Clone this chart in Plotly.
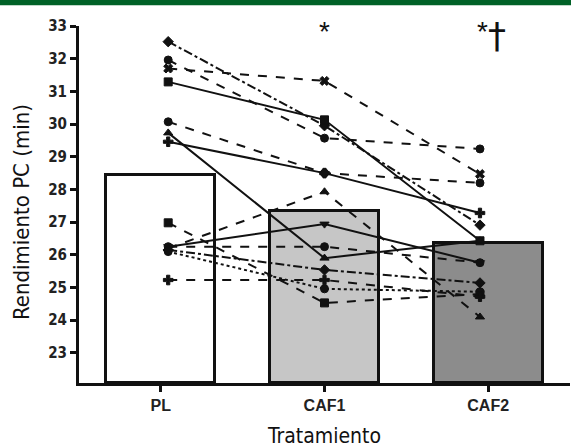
import plotly.graph_objects as go

categories = ["PL", "CAF1", "CAF2"]
bar_means = [28.44, 27.34, 26.37]
y_ticks = list(range(23, 34))

# individual subjects: values at PL, CAF1, CAF2
s1 = [32.52, 29.95, 26.91]
s2 = [31.96, 29.57, 29.24]
s3 = [31.70, 31.32, 28.47]
s4 = [31.29, 30.13, 26.43]
s5 = [30.07, 28.50, 28.20]
s6 = [29.73, 25.90, 26.43]
s7 = [29.46, 28.50, 27.28]
s8 = [26.98, 24.53, 24.80]
s9 = [26.25, 26.94, 25.76]
s10 = [26.20, 27.93, 24.10]
s11 = [26.25, 26.25, 25.76]
s12 = [26.15, 25.54, 25.14]
s13 = [26.10, 24.96, 24.87]
s14 = [25.23, 25.23, 24.72]

subjects = [
    (s1, "diamond", "dashdot"),
    (s2, "circle", "dash"),
    (s3, "x", "dash"),
    (s4, "square", "solid"),
    (s5, "circle", "dash"),
    (s6, "triangle-up", "solid"),
    (s7, "cross", "solid"),
    (s8, "square", "dash"),
    (s9, "triangle-down", "solid"),
    (s10, "triangle-up", "dash"),
    (s11, "circle", "dash"),
    (s12, "diamond", "dashdot"),
    (s13, "circle", "dot"),
    (s14, "cross", "dash"),
]

YMIN, YMAX = 22.08, 33
bar_x = [0, 1, 2]
point_x = [0.045, 1.0, 1.95]
bar_colors = ["#ffffff", "#c6c6c6", "#8c8c8c"]

fig = go.Figure()
fig.add_trace(go.Bar(
    x=bar_x, y=[v - YMIN for v in bar_means], base=YMIN,
    width=0.665, marker=dict(color=bar_colors, line=dict(color="#111111", width=3)),
    showlegend=False, hoverinfo="skip"))

for vals, sym, dash in subjects:
    fig.add_trace(go.Scatter(
        x=point_x, y=vals, mode="lines+markers",
        line=dict(color="#111111", width=2, dash=dash),
        marker=dict(symbol=sym, size=8, color="#111111",
                    line=dict(color="#111111", width=1)),
        showlegend=False))

cond = "DejaVu Sans Condensed, Liberation Sans Narrow, Roboto"

# green strip at top
fig.add_shape(type="rect", xref="paper", yref="paper", x0=-0.2, x1=1.05,
              y0=1.058, y1=1.1, fillcolor="#006127", line=dict(width=0), layer="above")

fig.add_annotation(x=1.0, y=0.985, xref="x", yref="paper", text="*", showarrow=False,
                   font=dict(size=28, color="#111111", family="Liberation Sans"), yanchor="middle")
fig.add_annotation(x=1.965, y=0.985, xref="x", yref="paper", text="*", showarrow=False,
                   font=dict(size=28, color="#111111", family="Liberation Sans"), yanchor="middle")
fig.add_annotation(x=2.055, y=0.972, xref="x", yref="paper", text="†", showarrow=False,
                   font=dict(size=36, color="#111111", family="DejaVu Sans"), yanchor="middle")

# y axis title
fig.add_annotation(x=-0.116, y=0.479, xref="paper", yref="paper", text="Rendimiento PC (min)",
                   textangle=-90, showarrow=False, xanchor="center", yanchor="middle",
                   font=dict(size=22, family=cond, color="#111111"))

fig.update_layout(
    width=571, height=448,
    margin=dict(l=79, r=1, t=26, b=65),
    plot_bgcolor="white", paper_bgcolor="white",
    bargap=0,
    font=dict(family=cond, color="#111111"),
    xaxis=dict(range=[-0.5, 2.5], tickmode="array", tickvals=bar_x,
               ticktext=["<b>%s</b>" % c for c in categories],
               showline=True, linecolor="#111111", linewidth=3,
               ticks="outside", ticklen=6, tickwidth=3, tickcolor="#111111",
               tickfont=dict(size=16, family="Liberation Sans", color="#222222"),
               showgrid=False, zeroline=False,
               title=dict(text="Tratamiento", font=dict(size=21, family=cond), standoff=17)),
    yaxis=dict(range=[YMIN, YMAX], tickmode="array", tickvals=y_ticks,
               ticktext=["<b>%d</b>" % t for t in y_ticks],
               showline=True, linecolor="#111111", linewidth=3,
               ticks="outside", ticklen=6, tickwidth=3, tickcolor="#111111",
               tickfont=dict(size=15, family=cond, color="#222222"),
               showgrid=False, zeroline=False),
)

fig.write_html("out.html", config={"displayModeBar": False},
               post_script="document.body.style.margin='0';document.body.style.padding='0';")
